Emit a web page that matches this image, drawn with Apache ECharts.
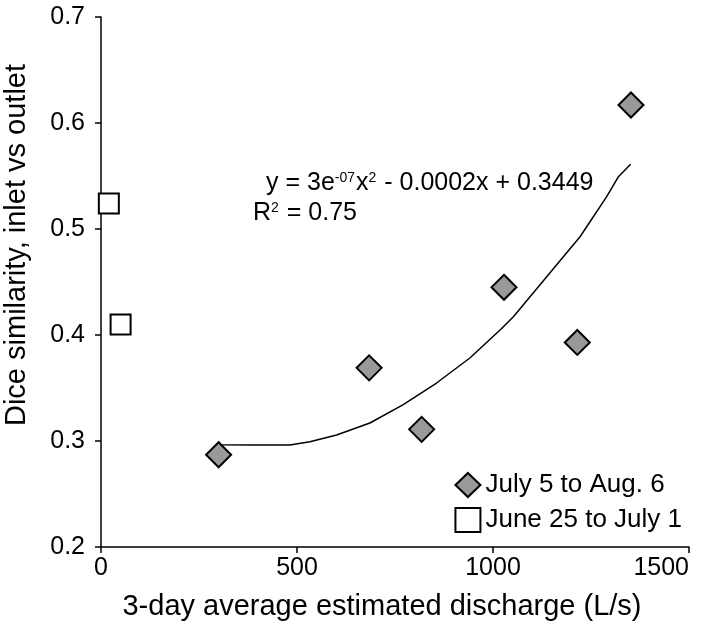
<!DOCTYPE html>
<html>
<head>
<meta charset="utf-8">
<script src="https://cdn.jsdelivr.net/npm/echarts@6/dist/echarts.min.js"></script>
<style>
html,body{margin:0;padding:0;background:#fff;}
#chart{width:708px;height:627px;}
</style>
</head>
<body>
<div id="chart"></div>
<script>
// Data
var julyName = 'July 5 to Aug. 6';
var juneName = 'June 25 to July 1';
var julyX = [300, 684, 818, 1028, 1215, 1352];
var julyY = [0.287, 0.369, 0.311, 0.445, 0.393, 0.617];
var juneX = [20, 50];
var juneY = [0.524, 0.410];
// Trendline as drawn in the reference
var trendX = [300, 306, 380, 431, 482, 533, 601, 686, 770, 856, 941, 1018, 1052, 1137, 1222, 1290, 1320, 1351];
var trendY = [0.299, 0.2965, 0.2962, 0.2962, 0.2963, 0.2993, 0.3057, 0.317, 0.334, 0.3547, 0.3783, 0.4047, 0.4173, 0.455, 0.4927, 0.5305, 0.5493, 0.561];
var xTicks = [0, 500, 1000, 1500];
var yTicks = [0.2, 0.3, 0.4, 0.5, 0.6, 0.7];
var xTitle = '3-day average estimated discharge (L/s)';
var yTitle = 'Dice similarity, inlet vs outlet';

function zip(a, b) { return a.map(function (v, i) { return [v, b[i]]; }); }

var FONT = '"Liberation Sans", Arial, sans-serif';
var richEq = {
  t: { fontFamily: FONT, fontSize: 25, fill: '#000', lineHeight: 30, verticalAlign: 'top' },
  s: { fontFamily: FONT, fontSize: 14, fill: '#000', lineHeight: 8, verticalAlign: 'top', padding: [0, 1, 0, 0] }
};
var chart = echarts.init(document.getElementById('chart'));
chart.setOption({
  backgroundColor: '#fff',
  animation: false,
  grid: { left: 101, right: 19, top: 17, bottom: 80 },
  xAxis: {
    type: 'value', min: 0, max: 1500, interval: 500,
    axisLine: { show: true, lineStyle: { color: '#000', width: 1.5 } },
    axisTick: { show: true, length: 6, lineStyle: { color: '#000', width: 1.5 } },
    axisLabel: { fontFamily: FONT, fontSize: 25, color: '#000', margin: 9,
      alignMaxLabel: 'right',
      formatter: function (v) { return xTicks.indexOf(v) >= 0 ? String(v) : ''; } },
    splitLine: { show: false }
  },
  yAxis: {
    type: 'value', min: 0.2, max: 0.7, interval: 0.1,
    axisLine: { show: true, lineStyle: { color: '#000', width: 1.5 } },
    axisTick: { show: true, length: 6, lineStyle: { color: '#000', width: 1.5 } },
    axisLabel: { fontFamily: FONT, fontSize: 25, color: '#000', margin: 16,
      formatter: function (v) {
        var t = Math.round(v * 10) / 10;
        return yTicks.indexOf(t) >= 0 ? t.toFixed(1) : '';
      } },
    splitLine: { show: false }
  },
  legend: {
    orient: 'vertical', right: 21, top: 467,
    itemWidth: 25, itemHeight: 24, itemGap: 9,
    textStyle: { fontFamily: FONT, fontSize: 26, color: '#000' },
    data: [
      { name: julyName, icon: 'diamond' },
      { name: juneName, icon: 'rect' }
    ]
  },
  series: [
    {
      name: 'trend', type: 'line', data: zip(trendX, trendY),
      showSymbol: false, symbol: 'none', smooth: false,
      lineStyle: { color: '#000', width: 1.5 }, silent: true, z: 1
    },
    {
      name: julyName, type: 'scatter', data: zip(julyX, julyY),
      symbol: 'diamond', symbolSize: 25,
      itemStyle: { color: '#999999', borderColor: '#000', borderWidth: 2, opacity: 1 }, z: 3
    },
    {
      name: juneName, type: 'scatter', data: zip(juneX, juneY),
      symbol: 'rect', symbolSize: 20,
      itemStyle: { color: '#fff', borderColor: '#000', borderWidth: 2, opacity: 1 }, z: 3
    }
  ],
  graphic: [
    {
      type: 'text', x: 266, y: 171,
      style: { text: '{t|y = 3e}{s|-07}{t|x}{s|2}{t| - 0.0002x + 0.3449}', rich: richEq }
    },
    {
      type: 'text', x: 253, y: 201,
      style: { text: '{t|R}{s|2}{t| = 0.75}', rich: richEq }
    },
    {
      type: 'text', x: 382, y: 607,
      style: { text: xTitle, fontFamily: FONT, fontSize: 29, fill: '#000', align: 'center', verticalAlign: 'middle' }
    },
    {
      type: 'text', x: 17, y: 245, rotation: Math.PI / 2,
      style: { text: yTitle, fontFamily: FONT, fontSize: 29, fill: '#000', align: 'center', verticalAlign: 'middle' }
    }
  ]
});
</script>
</body>
</html>
